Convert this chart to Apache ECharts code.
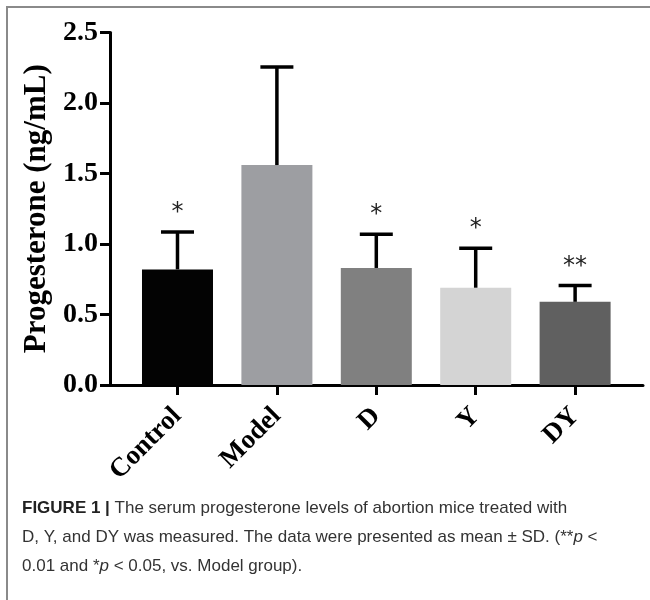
<!DOCTYPE html>
<html>
  <head>
    <meta charset="utf-8" />
    <script src="https://cdn.jsdelivr.net/npm/echarts@6.0.0/dist/echarts.min.js"></script>
  </head>
  <body style="margin: 0; background: #fff">
    <div id="container" style="width: 650px; height: 600px"></div>
    <script type="text/javascript">
      var groups = ["Control", "Model", "D", "Y", "DY"];
      var means = [0.82, 1.56, 0.83, 0.69, 0.59];
      var upper = [1.085, 2.255, 1.07, 0.97, 0.705];
      var marks = ["*", "", "*", "*", "**"];
      var colors = ["#030303", "#9d9ea2", "#808080", "#d4d4d4", "#606060"];

      var serif = "Liberation Serif";
      var chart = echarts.init(document.getElementById("container"), null, {
        renderer: "canvas",
      });

      var positions = groups.map(function (g, i) {
        return i;
      });

      var option = {
        animation: false,
        title: {
          left: 17,
          top: 489,
          text:
            "{b|FIGURE 1 |} The serum progesterone levels of abortion mice treated with\n" +
            "D, Y, and DY was measured. The data were presented as mean ± SD. (**{i|p} <\n" +
            "0.01 and *{i|p} < 0.05, vs. Model group).",
          textStyle: {
            fontFamily: "Liberation Sans",
            fontSize: 17,
            fontWeight: "normal",
            color: "#333",
            lineHeight: 29,
            rich: {
              b: { fontFamily: "Liberation Sans", fontSize: 17, fontWeight: "bold", color: "#222" },
              i: { fontFamily: "Liberation Sans", fontSize: 17, fontStyle: "italic", color: "#333" },
            },
          },
        },
        graphic: [
          {
            type: "polyline",
            shape: { points: [[7, 600], [7, 7], [650, 7]] },
            style: { stroke: "#8a8a8a", lineWidth: 2, fill: null },
          },
        ],
        grid: {
          left: 110,
          right: 7,
          top: 32.5,
          bottom: 215,
          containLabel: false,
          outerBoundsMode: "none",
        },
        xAxis: {
          type: "value",
          min: -0.679,
          max: 4.683,
          splitLine: { show: false },
          axisLine: { show: true, lineStyle: { color: "#000", width: 3 } },
          axisTick: {
            show: true,
            customValues: positions,
            length: 10,
            lineStyle: { color: "#000", width: 3 },
          },
          axisLabel: {
            customValues: positions,
            rotate: 45,
            margin: 27,
            fontFamily: serif,
            fontWeight: "bold",
            fontSize: 27,
            color: "#000",
            formatter: function (v) {
              return groups[Math.round(v)];
            },
          },
        },
        yAxis: {
          type: "value",
          min: 0,
          max: 2.5,
          interval: 0.5,
          name: "Progesterone (ng/mL)",
          nameLocation: "middle",
          nameRotate: 90,
          nameGap: 58,
          nameTextStyle: {
            fontFamily: serif,
            fontWeight: "bold",
            fontSize: 31,
            color: "#000",
          },
          splitLine: { show: false },
          axisLine: { show: true, onZero: false, lineStyle: { color: "#000", width: 3 } },
          axisTick: { show: true, length: 10, lineStyle: { color: "#000", width: 3 } },
          axisLabel: {
            margin: 12,
            fontFamily: serif,
            fontWeight: "bold",
            fontSize: 28,
            color: "#000",
            formatter: function (v) {
              return v.toFixed(1);
            },
          },
        },
        series: [
          {
            type: "bar",
            barWidth: 71,
            data: means.map(function (m, i) {
              return { value: [i, m], itemStyle: { color: colors[i] } };
            }),
          },
          {
            type: "custom",
            z: 3,
            data: means.map(function (m, i) {
              return [i, m, upper[i]];
            }),
            renderItem: function (params, api) {
              var base = api.coord([api.value(0), api.value(1)]);
              var top = api.coord([api.value(0), api.value(2)]);
              var hw = 16.5;
              var st = { stroke: "#000", lineWidth: 3.5 };
              return {
                type: "group",
                children: [
                  { type: "line", shape: { x1: base[0], y1: base[1], x2: top[0], y2: top[1] }, style: st },
                  { type: "line", shape: { x1: top[0] - hw, y1: top[1], x2: top[0] + hw, y2: top[1] }, style: st },
                  {
                    type: "text",
                    style: {
                      text: marks[params.dataIndex],
                      x: top[0],
                      y: top[1] - 19,
                      align: "center",
                      verticalAlign: "middle",
                      fontFamily: "DejaVu Sans",
                      fontSize: 24,
                      fill: "#222",
                    },
                  },
                ],
              };
            },
          },
        ],
      };

      chart.setOption(option);
      window.addEventListener("resize", chart.resize);
    </script>
  </body>
</html>
